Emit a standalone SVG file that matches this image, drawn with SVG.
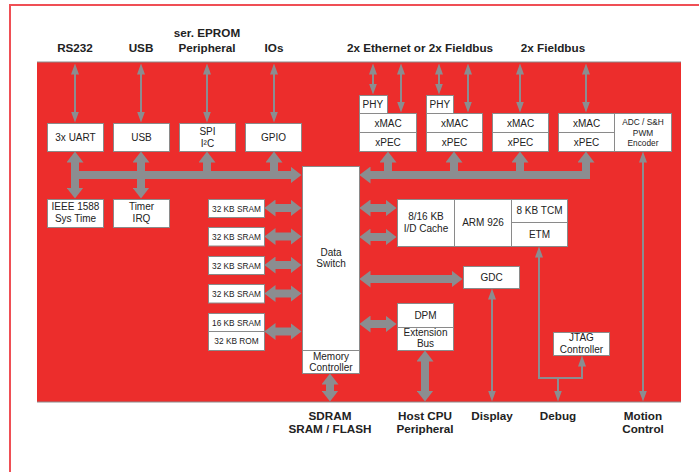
<svg xmlns="http://www.w3.org/2000/svg" width="699" height="472" viewBox="0 0 699 472">
<style>
.bx{fill:#fff;stroke:#8a8a8a;stroke-width:1}
.dv{stroke:#8a8a8a;stroke-width:1;fill:none}
.t{font-family:"Liberation Sans",Arial,sans-serif;font-size:10px;fill:#222;text-anchor:middle}
.s{font-size:8.3px}
.lb{font-family:"Liberation Sans",Arial,sans-serif;font-size:11.7px;font-weight:bold;fill:#222;text-anchor:middle}
.tn{stroke:#8b8d90;stroke-width:2;fill:none;marker-start:url(#hn);marker-end:url(#hn)}
.tk{stroke:#8b8d90;stroke-width:8;fill:none;marker-start:url(#hk);marker-end:url(#hk)}
.e{marker-start:none}
</style>
<defs>
<marker id="hn" markerUnits="userSpaceOnUse" viewBox="0 0 11 8" markerWidth="11" markerHeight="8" refX="0.5" refY="4" orient="auto-start-reverse"><path d="M0,0 L11,4 L0,8 z" fill="#8b8d90"/></marker>
<marker id="hk" markerUnits="userSpaceOnUse" viewBox="0 0 11 17" markerWidth="11" markerHeight="17" refX="0.5" refY="8.5" orient="auto-start-reverse"><path d="M0,0 L11,8.5 L0,17 z" fill="#8b8d90"/></marker>
</defs>
<rect x="0" y="0" width="699" height="472" fill="#fff"/>
<rect x="10" y="5" width="800" height="600" fill="none" stroke="#ef4f55" stroke-width="2"/>
<rect x="37" y="62" width="644" height="340" fill="#ec2d2c"/>
<path d="M37,62 H681 M37,402 H681" stroke="#8a8a8a" stroke-width="1"/>

<g id="labels">
<text class="lb" x="75" y="52">RS232</text>
<text class="lb" x="141" y="52">USB</text>
<text class="lb" x="207" y="37">ser. EPROM</text>
<text class="lb" x="207" y="52">Peripheral</text>
<text class="lb" x="274" y="52">IOs</text>
<text class="lb" x="420" y="52">2x Ethernet or 2x Fieldbus</text>
<text class="lb" x="553" y="52">2x Fieldbus</text>
<text class="lb" x="330" y="420">SDRAM</text>
<text class="lb" x="330" y="433">SRAM / FLASH</text>
<text class="lb" x="425" y="420">Host CPU</text>
<text class="lb" x="425" y="433">Peripheral</text>
<text class="lb" x="492" y="420">Display</text>
<text class="lb" x="558" y="420">Debug</text>
<text class="lb" x="643" y="420">Motion</text>
<text class="lb" x="643" y="433">Control</text>
</g>

<g id="connectors">
<path class="tn" d="M75,74 V112"/>
<path class="tn" d="M141,74 V112"/>
<path class="tn" d="M207,74 V112"/>
<path class="tn" d="M274,74 V112"/>
<path class="tn" d="M373,74 V84"/>
<path class="tn" d="M401,74 V102"/>
<path class="tn" d="M439,74 V84"/>
<path class="tn" d="M468,74 V102"/>
<path class="tn" d="M520,74 V102"/>
<path class="tn" d="M586,74 V102"/>
<path class="tn" d="M643,162 V391"/>
<path class="tn" d="M492,299 V391"/>
<path class="tn" d="M582,366 V378 H539 V257"/>
<path class="tn e" d="M558,378 V391"/>

<path class="tk e" d="M71,175 H291"/>
<path class="tk" d="M75,162 V188"/>
<path class="tk" d="M141,162 V188"/>
<path class="tk e" d="M207,175 V162"/>
<path class="tk e" d="M274,175 V162"/>
<path class="tk e" d="M590,175 H370"/>
<path class="tk e" d="M388,179 V162"/>
<path class="tk e" d="M454,179 V162"/>
<path class="tk e" d="M520,179 V162"/>
<path class="tk e" d="M586,179 V162"/>
<path class="tk" d="M275,208 H291"/>
<path class="tk" d="M275,236.5 H291"/>
<path class="tk" d="M275,265 H291"/>
<path class="tk" d="M275,293.5 H291"/>
<path class="tk" d="M275,331.5 H291"/>
<path class="tk" d="M370,208 H386"/>
<path class="tk" d="M370,237 H386"/>
<path class="tk" d="M370,279 H452"/>
<path class="tk" d="M370,324 H386"/>
<path class="tk" d="M425,361 V391"/>
<path class="tk" d="M330,384 V391"/>
</g>

<g id="uart"><rect class="bx" x="47.5" y="123.5" width="56" height="28"/><text class="t" x="75.5" y="141">3x UART</text></g>
<g id="usb"><rect class="bx" x="113.5" y="123.5" width="56" height="28"/><text class="t" x="141.5" y="141">USB</text></g>
<g id="spi"><rect class="bx" x="179.5" y="123.5" width="56" height="28"/><text class="t" x="207.5" y="135">SPI</text><text class="t" x="207.5" y="146.5">I²C</text></g>
<g id="gpio"><rect class="bx" x="245.5" y="123.5" width="56" height="28"/><text class="t" x="273.5" y="141">GPIO</text></g>
<g id="ieee"><rect class="bx" x="47.5" y="199.5" width="56" height="28"/><text class="t" x="75.5" y="210">IEEE 1588</text><text class="t" x="75.5" y="222">Sys Time</text></g>
<g id="timer"><rect class="bx" x="113.5" y="199.5" width="56" height="28"/><text class="t" x="141.5" y="210">Timer</text><text class="t" x="141.5" y="222">IRQ</text></g>

<g id="sram1"><rect class="bx" x="208.5" y="199.5" width="56" height="18"/><text class="t s" x="236.5" y="211.5">32 KB SRAM</text></g>
<g id="sram2"><rect class="bx" x="208.5" y="227.5" width="56" height="18.5"/><text class="t s" x="236.5" y="240">32 KB SRAM</text></g>
<g id="sram3"><rect class="bx" x="208.5" y="256.5" width="56" height="18"/><text class="t s" x="236.5" y="268.5">32 KB SRAM</text></g>
<g id="sram4"><rect class="bx" x="208.5" y="284.5" width="56" height="18.5"/><text class="t s" x="236.5" y="297">32 KB SRAM</text></g>
<g id="sram5"><rect class="bx" x="208.5" y="313.5" width="56" height="37"/><path class="dv" d="M208.5,331.5 H264.5"/><text class="t s" x="236.5" y="325.5">16 KB SRAM</text><text class="t s" x="236.5" y="344">32 KB ROM</text></g>

<g id="switch"><rect class="bx" x="302.5" y="166.5" width="57" height="207"/><path class="dv" d="M302.5,350.5 H359.5"/><text class="t" x="331" y="255.5">Data</text><text class="t" x="331" y="267">Switch</text><text class="t" x="331" y="359.5">Memory</text><text class="t" x="331" y="370.5">Controller</text></g>

<g id="phy1"><rect class="bx" x="359.5" y="95.5" width="28" height="18"/><text class="t" x="362.5" y="107.5" style="text-anchor:start">PHY</text></g>
<g id="mac1"><rect class="bx" x="359.5" y="113.5" width="57" height="38"/><path class="dv" d="M359.5,132.5 H416.5"/><text class="t" x="388" y="126.5">xMAC</text><text class="t" x="388" y="145.5">xPEC</text></g>
<g id="phy2"><rect class="bx" x="426.5" y="95.5" width="27" height="18"/><text class="t" x="429.5" y="107.5" style="text-anchor:start">PHY</text></g>
<g id="mac2"><rect class="bx" x="426.5" y="113.5" width="56" height="38"/><path class="dv" d="M426.5,132.5 H482.5"/><text class="t" x="454.5" y="126.5">xMAC</text><text class="t" x="454.5" y="145.5">xPEC</text></g>
<g id="mac3"><rect class="bx" x="492.5" y="113.5" width="56" height="38"/><path class="dv" d="M492.5,132.5 H548.5"/><text class="t" x="520.5" y="126.5">xMAC</text><text class="t" x="520.5" y="145.5">xPEC</text></g>
<g id="mac4"><rect class="bx" x="558.5" y="113.5" width="56" height="38"/><path class="dv" d="M558.5,132.5 H614.5"/><text class="t" x="586.5" y="126.5">xMAC</text><text class="t" x="586.5" y="145.5">xPEC</text></g>
<g id="adc"><rect class="bx" x="614.5" y="113.5" width="57" height="38"/><text class="t s" x="643" y="125">ADC / S&amp;H</text><text class="t s" x="643" y="135.5">PWM</text><text class="t s" x="643" y="146">Encoder</text></g>

<g id="cpu"><rect class="bx" x="397.5" y="199.5" width="170" height="47"/><path class="dv" d="M454.5,199.5 V246.5 M511.5,199.5 V246.5 M511.5,222.5 H567.5"/><text class="t" x="426" y="219.5">8/16 KB</text><text class="t" x="426" y="231.5">I/D Cache</text><text class="t" x="483" y="226">ARM 926</text><text class="t" x="539.5" y="214">8 KB TCM</text><text class="t" x="539.5" y="237.5">ETM</text></g>
<g id="gdc"><rect class="bx" x="463.5" y="266.5" width="56" height="22"/><text class="t" x="491.5" y="281">GDC</text></g>
<g id="dpm"><rect class="bx" x="397.5" y="303.5" width="56" height="47"/><path class="dv" d="M397.5,327.5 H453.5"/><text class="t" x="425.5" y="318.5">DPM</text><text class="t" x="425.5" y="335.5">Extension</text><text class="t" x="425.5" y="347">Bus</text></g>
<g id="jtag"><rect class="bx" x="553.5" y="332.5" width="56" height="23"/><text class="t" x="581.5" y="341">JTAG</text><text class="t" x="581.5" y="352.5">Controller</text></g>
</svg>
